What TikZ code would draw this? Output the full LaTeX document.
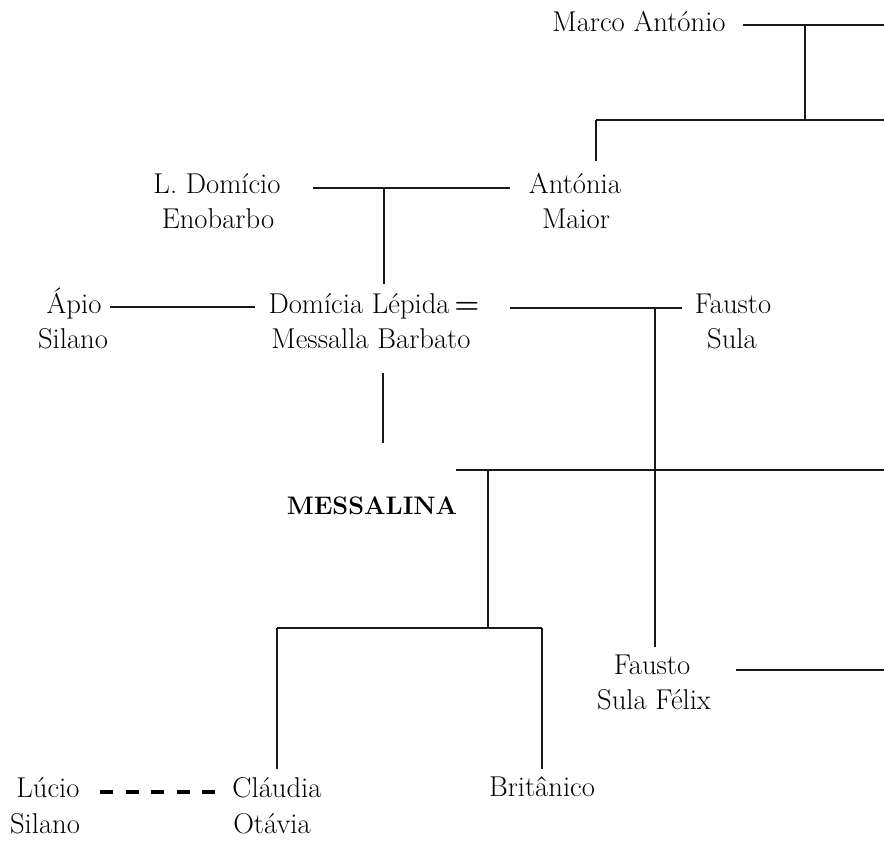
\documentclass[tikz,border=0pt]{standalone}
\begin{document}
\begin{tikzpicture}[x=0.75pt,y=-0.75pt,
  person/.style={inner sep=0pt,anchor=mid,yshift=-2.8pt,font=\fontsize{21.5}{26}\selectfont},
  link/.style={line width=0.95pt,draw=black!90},
  marriage/.style={line width=2.3pt,dash pattern=on 9.8pt off 9.4pt}]
\useasboundingbox (0,0) rectangle (884,847);
% names
\node[person] (marco) at (639,25) {Marco António};
\node[person] (ldom1) at (217,187) {L. Domício};
\node[person] (ldom2) at (218,222) {Enobarbo};
\node[person] (anton1) at (575,187) {Antónia};
\node[person] (anton2) at (576,222) {Maior};
\node[person] (apio1) at (74,307) {Ápio};
\node[person] (apio2) at (73,342) {Silano};
\node[person] (domi1) at (374,307) {Domícia Lépida\,\textbf{=}};
\node[person] (domi2) at (371,342) {Messalla Barbato};
\node[person] (fausto1) at (733,307) {Fausto};
\node[person] (fausto2) at (732,342) {Sula};
\node[person,font=\fontsize{19}{23}\selectfont] (messalina) at (372,508) {\textbf{MESSALINA}};
\node[person] (fsf1) at (652,668) {Fausto};
\node[person] (fsf2) at (654,703) {Sula Félix};
\node[person] (lucio1) at (48,791) {Lúcio};
\node[person] (lucio2) at (45,827) {Silano};
\node[person] (claud1) at (277,791) {Cláudia};
\node[person] (claud2) at (272,827) {Otávia};
\node[person] (brit) at (542,790) {Britânico};
% junction coordinates
\coordinate (mA) at (743,25);
\coordinate (mB) at (884,25);
\coordinate (mJ) at (805,25);
\coordinate (mK) at (805,120);
\coordinate (rowA) at (596,120);
\coordinate (rowB) at (884,120);
\coordinate (antTop) at (596,161);
\coordinate (dA) at (313,188);
\coordinate (dB) at (510,188);
\coordinate (dJ) at (384,188);
\coordinate (dK) at (384,284);
\coordinate (aA) at (110,307);
\coordinate (aB) at (255,307);
\coordinate (fA) at (510,308);
\coordinate (fB) at (682,308);
\coordinate (fJ) at (655,308);
\coordinate (fK) at (655,647);
\coordinate (mesA) at (383,373);
\coordinate (mesB) at (383,443);
\coordinate (hA) at (456,470);
\coordinate (hB) at (884,470);
\coordinate (hJ) at (488,470);
\coordinate (hK) at (488,628);
\coordinate (cA) at (277,628);
\coordinate (cB) at (542,628);
\coordinate (cBot) at (277,769);
\coordinate (bBot) at (542,769);
\coordinate (fsA) at (736,670);
\coordinate (fsB) at (884,670);
\coordinate (lA) at (100,792);
\coordinate (lB) at (215,792);
% connectors
\draw[link] (mA) -- (mB);
\draw[link] (mJ) -- (mK);
\draw[link] (rowA) -- (rowB);
\draw[link] (rowA) -- (antTop);
\draw[link] (dA) -- (dB);
\draw[link] (dJ) -- (dK);
\draw[link] (aA) -- (aB);
\draw[link] (fA) -- (fB);
\draw[link] (fJ) -- (fK);
\draw[link] (mesA) -- (mesB);
\draw[link] (hA) -- (hB);
\draw[link] (hJ) -- (hK);
\draw[link] (cA) -- (cB);
\draw[link] (cA) -- (cBot);
\draw[link] (cB) -- (bBot);
\draw[link] (fsA) -- (fsB);
\draw[marriage] (lA) -- (lB);
\end{tikzpicture}
\end{document}
